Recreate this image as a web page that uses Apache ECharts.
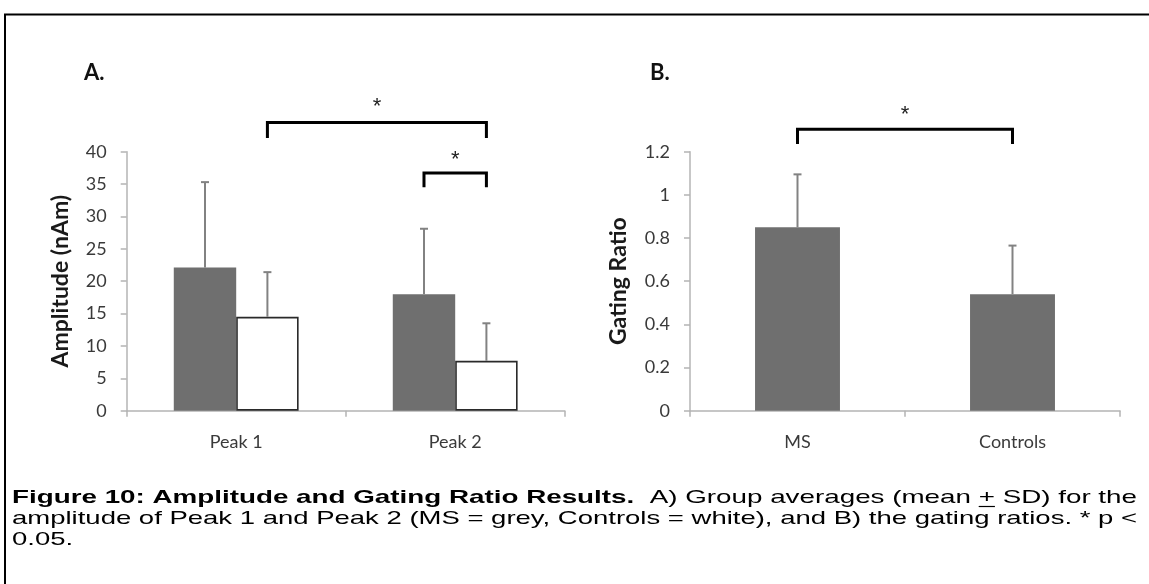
<!DOCTYPE html>
<html>
<head>
<meta charset="utf-8">
<style>
  html, body { margin: 0; padding: 0; background: #ffffff; }
  #chart { width: 1149px; height: 584px; }
</style>
<script src="https://cdn.jsdelivr.net/npm/echarts@6/dist/echarts.min.js"></script>
</head>
<body>
<div id="chart"></div>
<script>
// ---------- data ----------
const peakCategories = ['Peak 1', 'Peak 2'];
const msAmplitude = [22.1, 18.0];
const msAmplitudeSD = [13.2, 10.1];
const controlAmplitude = [14.5, 7.7];
const controlAmplitudeSD = [6.9, 5.8];

const gatingCategories = ['MS', 'Controls'];
const gatingRatio = [0.85, 0.54];
const gatingRatioSD = [0.245, 0.225];

const amplitudeTicks = { min: 0, max: 40, interval: 5 };
const gatingTicks = { min: 0, max: 1.2, interval: 0.2 };

// significance brackets: [fromCategory, fromGroup, toCategory, toGroup, level, drop]
const sigBracketsA = [
  [0, 1, 1, 1, 44.5, 2.4],
  [1, 0, 1, 1, 36.7, 2.2]
];
const sigBracketsB = [
  [0, 0, 1, 0, 1.304, 0.068]
];

const captionBold = 'Figure 10: Amplitude and Gating Ratio Results.';
const captionLine1 = '  A) Group averages (mean ';
const captionPlus = '+';
const captionLine1b = ' SD) for the';
const captionLine2 = 'amplitude of Peak 1 and Peak 2 (MS = grey, Controls = white), and B) the gating ratios. * p <';
const captionLine3 = '0.05.';

// ---------- styling ----------
const GREY_BAR = '#6f6f6f';
const AXIS_GREY = '#b4b4b4';
const ERR_GREY = '#828282';
const LABEL_FONT = 'Lato';
const BAR_FRAC_A = 0.285;  // bar width as fraction of category
const BAR_FRAC_B = 0.395;
const CAP_FONT = '19px "Liberation Sans"';
const CAP_FONT_B = 'bold 19px "Liberation Sans"';

function errorBarSeries(gridIdx, values, sds, offsetFrac) {
  return {
    type: 'custom',
    xAxisIndex: gridIdx, yAxisIndex: gridIdx,
    z: 5,
    clip: false,
    data: values.map((v, i) => [i, v, sds[i]]),
    renderItem: function (params, api) {
      const i = api.value(0), m = api.value(1), s = api.value(2);
      const base = api.coord([i, m]);
      const top = api.coord([i, m + s]);
      const cw = api.size([1, 0])[0];
      const x = base[0] + offsetFrac * cw;
      return {
        type: 'group',
        children: [
          { type: 'line', shape: { x1: x, y1: base[1], x2: x, y2: top[1] },
            style: { stroke: ERR_GREY, lineWidth: 2 } },
          { type: 'line', shape: { x1: x - 4, y1: top[1], x2: x + 4, y2: top[1] },
            style: { stroke: ERR_GREY, lineWidth: 2 } }
        ]
      };
    }
  };
}

function bracketSeries(gridIdx, brackets, groupOffsets) {
  return {
    type: 'custom',
    xAxisIndex: gridIdx, yAxisIndex: gridIdx,
    z: 6,
    clip: false,
    silent: true,
    data: brackets,
    renderItem: function (params, api) {
      const c1 = api.value(0), g1 = api.value(1), c2 = api.value(2), g2 = api.value(3);
      const lvl = api.value(4), drop = api.value(5);
      const cw = api.size([1, 0])[0];
      const pA = api.coord([c1, lvl]);
      const pB = api.coord([c2, lvl]);
      const low = api.coord([c1, lvl - drop]);
      const x1 = pA[0] + groupOffsets[g1] * cw;
      const x2 = pB[0] + groupOffsets[g2] * cw;
      const starY = pA[1] - (low[1] - pA[1]) * 1.2;
      return {
        type: 'group',
        children: [
          { type: 'polyline',
            shape: { points: [[x1, low[1]], [x1, pA[1]], [x2, pA[1]], [x2, low[1]]] },
            style: { stroke: '#000', lineWidth: 3, fill: null, lineJoin: 'miter' } },
          { type: 'text',
            style: { text: '*', x: (x1 + x2) / 2, y: starY + 3.5, align: 'center', verticalAlign: 'middle',
                     font: '22px "Liberation Sans"', fill: '#222' } }
        ]
      };
    }
  };
}

function valueAxis(gridIdx, ticks, name, nameGap) {
  return {
    type: 'value', gridIndex: gridIdx,
    min: ticks.min, max: ticks.max, interval: ticks.interval,
    name: name, nameLocation: 'middle', nameRotate: 90, nameGap: nameGap,
    nameTextStyle: { fontFamily: LABEL_FONT, fontWeight: 'bold', fontSize: 23, color: '#1a1a1a' },
    axisLine: { show: true, lineStyle: { color: AXIS_GREY, width: 1.5 } },
    axisTick: { show: true, length: 6, lineStyle: { color: AXIS_GREY, width: 1.5 } },
    axisLabel: { fontFamily: LABEL_FONT, fontSize: 18, color: '#3a3a3a', margin: 20 },
    splitLine: { show: false }
  };
}

function catAxis(gridIdx, cats) {
  return {
    type: 'category', gridIndex: gridIdx, data: cats,
    axisLine: { show: true, lineStyle: { color: AXIS_GREY, width: 1.5 } },
    axisTick: { show: true, length: 6, lineStyle: { color: AXIS_GREY, width: 1.5 } },
    axisLabel: { fontFamily: LABEL_FONT, fontSize: 18, color: '#3a3a3a', margin: 22 }
  };
}

// ---------- caption: Liberation Sans, stretched horizontally to the reference width ----------
const measureCtx = document.createElement('canvas').getContext('2d');
function measure(text, font) { measureCtx.font = font; return measureCtx.measureText(text).width; }

const CAP_X0 = 12, CAP_X1 = 1137;
const w1Bold = measure(captionBold, CAP_FONT_B);
const w1a = measure(captionLine1, CAP_FONT);
const wPlus = measure(captionPlus, CAP_FONT);
const w1b = measure(captionLine1b, CAP_FONT);
const w1 = w1Bold + w1a + wPlus + w1b;
const w2 = measure(captionLine2, CAP_FONT);
const sx1 = (CAP_X1 - CAP_X0) / w1;
const sx2 = (CAP_X1 - CAP_X0) / w2;

const captionEls = [
  { type: 'group', x: CAP_X0, y: 498, scaleX: sx1, silent: true,
    children: [
      { type: 'text', style: { x: 0, y: 0, verticalAlign: 'middle', fill: '#000',
          text: '{b|' + captionBold + '}{n|' + captionLine1 + captionPlus + captionLine1b + '}',
          rich: { b: { font: CAP_FONT_B, fill: '#000' }, n: { font: CAP_FONT, fill: '#000' } } } },
      { type: 'line', shape: { x1: w1Bold + w1a, y1: 8.5, x2: w1Bold + w1a + wPlus, y2: 8.5 },
        style: { stroke: '#000', lineWidth: 1.2 } }
    ] },
  { type: 'group', x: CAP_X0, y: 519, scaleX: sx2, silent: true,
    children: [
      { type: 'text', style: { x: 0, y: 0, verticalAlign: 'middle', text: captionLine2, font: CAP_FONT, fill: '#000' } }
    ] },
  { type: 'group', x: CAP_X0, y: 540, scaleX: sx2, silent: true,
    children: [
      { type: 'text', style: { x: 0, y: 0, verticalAlign: 'middle', text: captionLine3, font: CAP_FONT, fill: '#000' } }
    ] }
];

const chart = echarts.init(document.getElementById('chart'), null, { renderer: 'canvas' });

const offA = BAR_FRAC_A / 2;
const option = {
  backgroundColor: '#ffffff',
  animation: false,
  grid: [
    { left: 126.7, top: 151.7, width: 438, height: 259 },
    { left: 690, top: 151.7, width: 430, height: 259 }
  ],
  xAxis: [catAxis(0, peakCategories), catAxis(1, gatingCategories)],
  yAxis: [
    valueAxis(0, amplitudeTicks, 'Amplitude (nAm)', 55),
    valueAxis(1, gatingTicks, 'Gating Ratio', 60)
  ],
  series: [
    { type: 'bar', name: 'MS', xAxisIndex: 0, yAxisIndex: 0, data: msAmplitude,
      barWidth: (BAR_FRAC_A * 100) + '%', barGap: '0%',
      itemStyle: { color: GREY_BAR } },
    { type: 'bar', name: 'Controls', xAxisIndex: 0, yAxisIndex: 0, data: controlAmplitude,
      barWidth: (BAR_FRAC_A * 100) + '%', barGap: '0%',
      itemStyle: { color: '#ffffff', borderColor: '#2a2a2a', borderWidth: 1.6 } },
    errorBarSeries(0, msAmplitude, msAmplitudeSD, -offA),
    errorBarSeries(0, controlAmplitude, controlAmplitudeSD, offA),
    { type: 'bar', name: 'Gating', xAxisIndex: 1, yAxisIndex: 1, data: gatingRatio,
      barWidth: (BAR_FRAC_B * 100) + '%',
      itemStyle: { color: GREY_BAR } },
    errorBarSeries(1, gatingRatio, gatingRatioSD, 0),
    bracketSeries(0, sigBracketsA, [-offA, offA]),
    bracketSeries(1, sigBracketsB, [0])
  ],
  graphic: [
    { type: 'line', shape: { x1: 4, y1: 14.5, x2: 1149, y2: 14.5 }, style: { stroke: '#000', lineWidth: 2 } },
    { type: 'line', shape: { x1: 5, y1: 14, x2: 5, y2: 584 }, style: { stroke: '#000', lineWidth: 2 } },
    { type: 'text', left: 84, top: 62,
      style: { text: 'A.', font: 'bold 22px Lato', fill: '#111' } },
    { type: 'text', left: 650, top: 62,
      style: { text: 'B.', font: 'bold 22px Lato', fill: '#111' } }
  ].concat(captionEls)
};
chart.setOption(option);
</script>
</body>
</html>
